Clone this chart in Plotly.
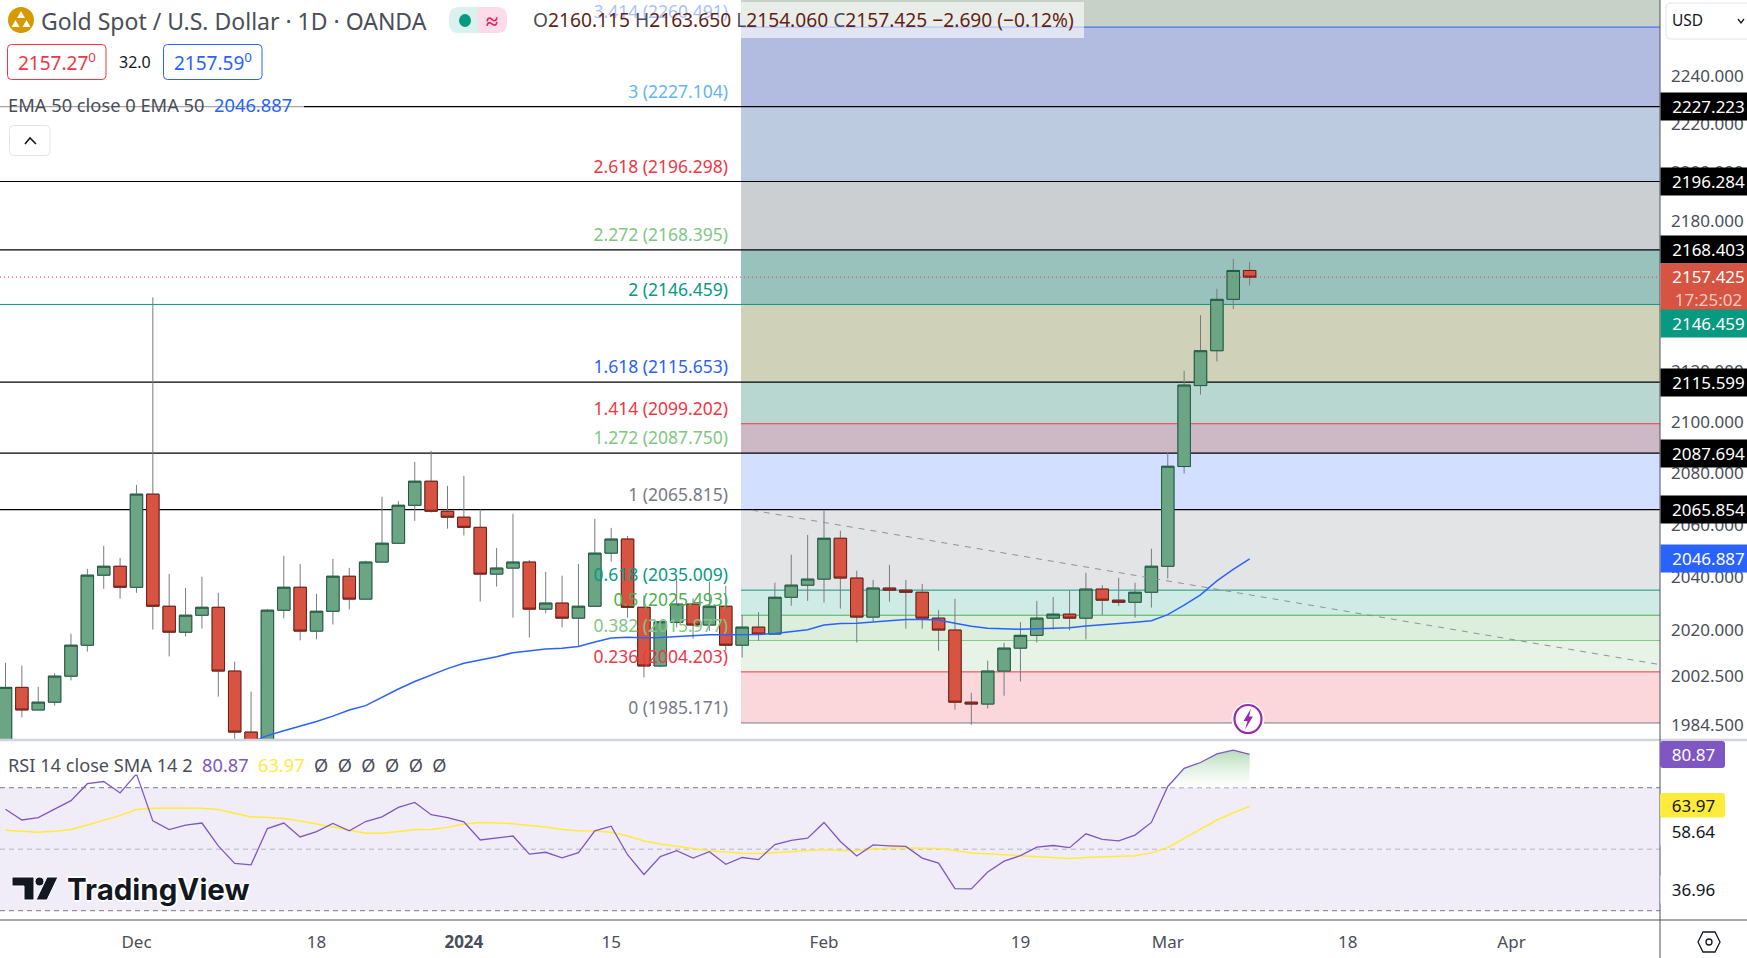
#!/usr/bin/env python3
#coding:utf-8

import math

import plotly.graph_objects as go

# daily candles
opens = [1974.9, 1998.4, 1990.0, 1992.9, 2002.6, 2014.2, 2040.7, 2044.1, 2036.1, 2071.8, 2028.9, 2019.1, 2025.5, 2028.5, 2004.5, 1981.8, 1976.2, 2027.4, 2036.1, 2019.5, 2027.0, 2040.3, 2031.6, 2045.7, 2052.9, 2067.5, 2076.8, 2065.2, 2062.9, 2059.0, 2041.1, 2043.4, 2045.7, 2027.8, 2030.1, 2024.4, 2028.9, 2049.1, 2054.5, 2028.5, 2006.4, 2022.8, 2029.7, 2021.8, 2028.9, 2014.2, 2021.0, 2018.4, 2032.3, 2036.9, 2039.2, 2054.8, 2039.6, 2024.8, 2035.8, 2035.0, 2034.2, 2024.4, 2019.9, 1992.9, 1992.2, 2004.5, 2013.1, 2017.9, 2024.4, 2025.9, 2024.4, 2035.4, 2031.2, 2030.4, 2034.2, 2044.1, 2082.5, 2114.2, 2128.0, 2148.5, 2160.115]
highs = [2007.6, 2006.5, 1998.6, 2003.7, 2018.5, 2043.1, 2051.9, 2047.3, 2075.4, 2149.3, 2041.2, 2035.9, 2040.1, 2034.0, 2008.0, 1996.8, 2027.9, 2048.1, 2045.0, 2033.6, 2046.9, 2043.5, 2046.2, 2070.8, 2069.2, 2084.3, 2088.6, 2075.0, 2078.9, 2066.0, 2051.1, 2064.2, 2046.5, 2042.0, 2040.5, 2045.0, 2062.3, 2058.8, 2055.7, 2032.9, 2023.0, 2039.2, 2031.9, 2038.2, 2036.6, 2025.5, 2026.7, 2037.8, 2048.5, 2056.1, 2065.5, 2057.7, 2042.4, 2038.9, 2044.6, 2038.9, 2037.4, 2027.5, 2031.7, 1996.4, 2008.4, 2015.1, 2022.9, 2030.9, 2032.4, 2034.9, 2041.6, 2036.9, 2039.7, 2037.8, 2050.8, 2088.2, 2120.1, 2142.2, 2152.7, 2164.8, 2163.65]
lows = [1971.3, 1987.3, 1990.0, 1991.6, 2001.0, 2011.8, 2035.5, 2031.8, 2034.0, 2020.1, 2010.0, 2017.5, 2020.5, 1995.0, 1976.2, 1975.6, 1974.9, 2024.3, 2016.0, 2016.4, 2022.0, 2027.7, 2031.6, 2045.7, 2052.9, 2061.5, 2064.7, 2058.5, 2055.9, 2030.7, 2036.4, 2024.6, 2017.1, 2026.2, 2020.9, 2013.7, 2028.9, 2045.9, 2024.6, 2002.1, 2005.9, 2020.9, 2016.7, 2019.6, 2012.1, 2009.6, 2015.85, 2018.4, 2029.1, 2030.9, 2030.3, 2028.0, 2015.2, 2023.0, 2030.6, 2020.4, 2020.4, 2012.1, 1990.1, 1984.5, 1990.5, 1995.3, 2000.6, 2015.2, 2020.1, 2019.8, 2016.4, 2025.5, 2029.1, 2024.6, 2028.4, 2039.4, 2079.8, 2110.7, 2123.7, 2144.6, 2154.06]
closes = [1998.4, 1990.0, 1992.9, 2002.6, 2014.2, 2040.7, 2044.1, 2036.1, 2071.8, 2028.9, 2019.1, 2025.5, 2028.5, 2004.5, 1981.8, 1978.0, 2027.4, 2036.1, 2019.5, 2027.0, 2040.3, 2031.6, 2045.7, 2052.9, 2067.5, 2076.8, 2065.2, 2062.9, 2059.0, 2041.1, 2043.4, 2045.7, 2027.8, 2030.1, 2024.4, 2028.9, 2049.1, 2054.5, 2028.5, 2006.4, 2023.0, 2029.7, 2021.8, 2028.9, 2014.2, 2021.0, 2018.4, 2032.3, 2036.9, 2039.2, 2054.8, 2039.6, 2024.8, 2035.8, 2035.0, 2034.2, 2024.4, 2019.9, 1992.9, 1992.2, 2004.5, 2013.1, 2017.9, 2024.4, 2025.9, 2024.4, 2035.4, 2031.2, 2030.4, 2034.2, 2044.1, 2082.6, 2114.4, 2128.0, 2148.5, 2160.115, 2157.425]

# EMA 50 only comes into view from bar 15
ema_start = 15
ema50 = [1978.0, 1980.5, 1982.3, 1983.9, 1985.7, 1987.7, 1990.0, 1991.6, 1994.7, 1997.8, 2000.6, 2003.1, 2005.4, 2007.4, 2008.6, 2009.9, 2011.4, 2012.1, 2012.8, 2013.1, 2013.7, 2015.4, 2016.9, 2017.2, 2017.0, 2017.1, 2017.5, 2017.7, 2018.1, 2018.1, 2018.1, 2018.2, 2018.6, 2019.2, 2020.0, 2021.8, 2022.4, 2022.5, 2022.9, 2023.4, 2023.9, 2023.9, 2023.7, 2022.5, 2021.3, 2020.6, 2020.4, 2020.2, 2020.4, 2020.6, 2020.8, 2021.4, 2021.8, 2022.3, 2022.8, 2023.4, 2025.7, 2029.3, 2033.2, 2038.5, 2042.9, 2046.887]

rsi = [63.0, 59.5, 60.3, 63.0, 65.8, 71.3, 72.0, 68.3, 74.5, 59.2, 56.4, 57.8, 58.5, 51.1, 45.4, 44.9, 56.7, 58.5, 54.0, 55.7, 58.4, 56.0, 59.0, 60.5, 63.6, 65.2, 61.2, 60.3, 58.9, 53.0, 53.7, 54.3, 48.4, 49.0, 47.2, 48.9, 56.0, 57.5, 48.2, 41.8, 47.6, 49.5, 47.1, 49.2, 45.1, 47.3, 46.6, 51.5, 52.9, 53.6, 58.7, 52.5, 47.8, 51.4, 51.1, 50.9, 47.1, 45.5, 37.2, 37.1, 42.6, 46.1, 47.9, 50.7, 51.2, 50.5, 55.0, 53.2, 52.7, 54.6, 58.7, 70.4, 76.3, 78.2, 81.0, 82.2, 80.87]
rsi_sma = [56.2, 55.8, 55.5, 55.8, 56.4, 57.9, 59.5, 61.0, 62.9, 63.3, 63.4, 63.4, 63.3, 62.9, 61.6, 60.5, 60.3, 60.0, 59.2, 58.3, 57.2, 56.2, 55.2, 55.2, 55.8, 56.3, 56.4, 57.1, 58.2, 58.7, 58.5, 58.3, 57.7, 57.2, 56.4, 56.0, 55.9, 55.5, 54.3, 52.7, 51.7, 51.0, 50.1, 49.5, 49.1, 48.7, 48.6, 48.8, 49.2, 49.6, 49.8, 49.6, 49.5, 50.1, 50.4, 50.4, 50.4, 50.2, 49.6, 48.8, 48.5, 48.2, 47.8, 47.5, 47.1, 47.0, 47.3, 47.5, 47.6, 47.9, 48.8, 50.5, 53.5, 56.4, 59.5, 61.8, 63.97]

# fib retracement levels, top to bottom
fib_ratios = ["3.414", "3", "2.618", "2.272", "2", "1.618", "1.414", "1.272", "1", "0.618", "0.5", "0.382", "0.236", "0"]
fib_prices = [2260.491, 2227.104, 2196.298, 2168.395, 2146.459, 2115.653, 2099.202, 2087.750, 2065.815, 2035.009, 2025.493, 2015.977, 2004.203, 1985.171]
fib_text_colors = ["#2962ff", "#64b5f6", "#f23645", "#81c784", "#089981", "#2962ff", "#f23645", "#81c784", "#787b86", "#089981", "#4caf50", "#81c784", "#f23645", "#787b86"]
fib_band_colors = ["#b2bce0", "#bdcbe0", "#cbcfd2", "#99c2bd", "#d0d1b9", "#b7d7d0", "#cdb9c6", "#d2dfff", "#e3e4e6", "#cfebe5", "#dcefdc", "#e6f3e6", "#fbd6db"]
top_band_color = "#c7d1c8"

# full width black lines and their tags
black_levels = [2227.223, 2196.284, 2168.403, 2115.599, 2087.694, 2065.854]

price_ticks = [2240, 2220, 2200, 2180, 2120, 2100, 2080, 2060, 2040, 2020, 2002.5, 1984.5]
date_labels = ["Dec", "18", "<b>2024</b>", "15", "Feb", "19", "Mar", "18", "Apr"]
date_bars = [8, 19, 28, 37, 50, 62, 71, 82, 92]

last_price = 2157.425
last_bar = 76

FONT = "Noto Sans"
W, H = 1747, 958
PLOT_W, PLOT_H = 1660, 920
MAIN_BOTTOM, RSI_TOP = 739, 741
BAR_STEP, BAR_OFFSET = 16.37, 5.5
PX_PER_LN = 5358.0
TOP_LEVEL_Y = 27.1  # pixel row of the 3.414 level
GREEN, RED = "#6ba583", "#d75442"


def px(x):
    return x / PLOT_W


def py(y):
    return 1 - y / PLOT_H


def bar_at(x):
    """bar index under a pixel column"""
    return (x - BAR_OFFSET) / BAR_STEP


def rounded(x0, y0, x1, y1, r=3):
    """svg path of a rounded box, pixels in, paper coords out"""
    return (f"M{px(x0+r)},{py(y0)} L{px(x1-r)},{py(y0)} Q{px(x1)},{py(y0)} {px(x1)},{py(y0+r)} "
            f"L{px(x1)},{py(y1-r)} Q{px(x1)},{py(y1)} {px(x1-r)},{py(y1)} "
            f"L{px(x0+r)},{py(y1)} Q{px(x0)},{py(y1)} {px(x0)},{py(y1-r)} "
            f"L{px(x0)},{py(y0+r)} Q{px(x0)},{py(y0)} {px(x0+r)},{py(y0)} Z")


def poly(points):
    return "M" + " L".join(f"{px(x)},{py(y)}" for x, y in points) + " Z"


def line_path(points):
    return "M" + " L".join(f"{px(x)},{py(y)}" for x, y in points)


def paper_shape(path, fill="rgba(0,0,0,0)", color="rgba(0,0,0,0)", width=0, layer="above"):
    return dict(type="path", path=path, xref="paper", yref="paper", fillcolor=fill,
                line=dict(color=color, width=width), layer=layer)


def paper_text(x, y, text, size=16, color="#131722", anchor="left", **kw):
    return dict(x=px(x), y=py(y), xref="paper", yref="paper", text=text, showarrow=False,
                xanchor=anchor, yanchor="middle", align=anchor,
                font=dict(family=FONT, size=size, color=color), **kw)


def tag(y_px, text, bg, color="white", width=95, height=27):
    return dict(x=1, y=py(y_px), xref="paper", yref="paper", xanchor="left", yanchor="middle",
                text=text, showarrow=False, width=width, height=height, bgcolor=bg, borderpad=0,
                align="center", valign="middle", font=dict(family=FONT, size=17, color=color))


def price_tag(price, text, bg, **kw):
    """tag sitting on its price level"""
    y_px = (math.log(2260.491 / price)) * PX_PER_LN + TOP_LEVEL_Y
    return tag(y_px, text, bg, **kw)


bars = list(range(len(closes)))
x_range = [bar_at(0), bar_at(PLOT_W)]
band_x0 = bar_at(741)

# prices at the top and bottom rows of the main pane
price_top = 2260.491 * math.exp(TOP_LEVEL_Y / PX_PER_LN)
price_bottom = price_top * math.exp(-MAIN_BOTTOM / PX_PER_LN)
# 70 at y=787.7, 30 at y=910.7
rsi_per_px = 40 / 123.0
rsi_top = 70 + (787.7 - RSI_TOP) * rsi_per_px
rsi_bottom = 30 - (PLOT_H - 910.7) * rsi_per_px

fig = go.Figure()

# fib labels go under the candles, so they are a trace and not annotations
label_lift = math.exp(4.5 / PX_PER_LN)
fig.add_trace(go.Scatter(x=[bar_at(728)] * len(fib_prices), y=[p * label_lift for p in fib_prices], mode="text",
                         text=[f"{r} ({p:.3f})" for r, p in zip(fib_ratios, fib_prices)],
                         textposition="top left",
                         textfont=dict(family=FONT, size=17.5, color=fib_text_colors),
                         hoverinfo="skip", showlegend=False))

# dashed trend line
fig.add_trace(go.Scatter(x=[bar_at(752), bar_at(1660)], y=[2065.6, 2006.9], mode="lines",
                         line=dict(color="#8f9199", width=1, dash="6px 6px"),
                         hoverinfo="skip", showlegend=False))

# ema behind the candles
fig.add_trace(go.Scatter(x=bars[ema_start:], y=ema50, mode="lines",
                         line=dict(color="#2962ff", width=1.5), hoverinfo="skip", showlegend=False))

# gray wicks, then the bodies on top of them without wicks
fig.add_trace(go.Candlestick(x=bars, open=opens, high=highs, low=lows, close=closes,
                             increasing=dict(line=dict(color="#787b86", width=1), fillcolor="#787b86"),
                             decreasing=dict(line=dict(color="#787b86", width=1), fillcolor="#787b86"),
                             whiskerwidth=0, hoverinfo="skip", showlegend=False))
fig.add_trace(go.Candlestick(x=bars, open=opens, close=closes,
                             high=[max(o, c) for o, c in zip(opens, closes)],
                             low=[min(o, c) for o, c in zip(opens, closes)],
                             increasing=dict(line=dict(color="#1f5a41", width=1), fillcolor=GREEN),
                             decreasing=dict(line=dict(color="#6f1c14", width=1), fillcolor=RED),
                             whiskerwidth=0, hoverinfo="skip", showlegend=False))

# last price dotted line
fig.add_trace(go.Scatter(x=x_range, y=[last_price, last_price], mode="lines",
                         line=dict(color="#f23645", width=1, dash="1px 3px"),
                         hoverinfo="skip", showlegend=False))

# rsi area above 70, last bars only
over_bars = [b for b in bars if rsi[b] > 70 and b >= 71]
fig.add_trace(go.Scatter(x=over_bars + [last_bar, over_bars[0]],
                         y=[rsi[b] for b in over_bars] + [70, 70],
                         xaxis="x", yaxis="y2", mode="none", fill="toself",
                         fillgradient=dict(type="vertical",
                                           colorscale=[[0, "rgba(255,255,255,0.6)"], [1, "#b5dcb8"]]),
                         hoverinfo="skip", showlegend=False))
fig.add_trace(go.Scatter(x=bars, y=rsi_sma, xaxis="x", yaxis="y2", mode="lines",
                         line=dict(color="#ffeb3b", width=1.5), hoverinfo="skip", showlegend=False))
fig.add_trace(go.Scatter(x=bars, y=rsi, xaxis="x", yaxis="y2", mode="lines",
                         line=dict(color="#7e57c2", width=1.3), hoverinfo="skip", showlegend=False))

shapes = []

# fib bands
edges = [price_top] + fib_prices
for color, hi, lo in zip([top_band_color] + fib_band_colors, edges[:-1], edges[1:]):
    shapes.append(dict(type="rect", xref="x", yref="y", x0=band_x0, x1=x_range[1], y0=lo, y1=hi,
                       fillcolor=color, line=dict(width=0), layer="below"))

# fib lines inside the band
band_lines = {"3.414": "#2962ff", "1.414": "#f23645", "0.618": "#089981", "0.5": "#4caf50",
              "0.382": "#81c784", "0.236": "#f23645", "0": "#787b86"}
for ratio, price in zip(fib_ratios, fib_prices):
    if ratio in band_lines:
        shapes.append(dict(type="line", xref="x", yref="y", x0=band_x0, x1=x_range[1], y0=price, y1=price,
                           line=dict(color=band_lines[ratio], width=1), layer="below"))

# full width lines
shapes.append(dict(type="line", xref="x", yref="y", x0=x_range[0], x1=x_range[1], y0=2146.459, y1=2146.459,
                   line=dict(color="#089981", width=1), layer="below"))
for level in black_levels:
    shapes.append(dict(type="line", xref="x", yref="y", x0=x_range[0], x1=x_range[1], y0=level, y1=level,
                       line=dict(color="#000000", width=1.2), layer="below"))

# rsi band and its dashed levels
shapes.append(dict(type="rect", xref="x", yref="y2", x0=x_range[0], x1=x_range[1], y0=30, y1=70,
                   fillcolor="#f0edf9", line=dict(width=0), layer="below"))
for level, color in [(70, "#787b86"), (50, "#b2b5be"), (30, "#787b86")]:
    shapes.append(dict(type="line", xref="x", yref="y2", x0=x_range[0], x1=x_range[1], y0=level, y1=level,
                       line=dict(color=color, width=1, dash="5px 4px"), layer="below"))

# legend backdrops
shapes.append(paper_shape(poly([(526, 2), (1084, 2), (1084, 38), (526, 38)]), fill="rgba(255,255,255,0.6)"))
shapes.append(paper_shape(poly([(0, 92), (304, 92), (304, 118), (0, 118)]), fill="rgba(255,255,255,0.65)"))
shapes.append(paper_shape(poly([(0, 744), (446, 744), (446, 775), (0, 775)]), fill="rgba(255,255,255,0.65)"))

# pane borders
shapes.append(paper_shape(line_path([(0, 740), (W, 740)]), color="#d1d4dc", width=2.5))
shapes.append(paper_shape(line_path([(0, 920), (W, 920)]), color="#50535e", width=1))
shapes.append(paper_shape(line_path([(1660, 0), (1660, H)]), color="#50535e", width=1))

# symbol icon
shapes.append(dict(type="circle", xref="paper", yref="paper", x0=px(8), x1=px(34), y0=py(33), y1=py(7),
                   fillcolor="#d69a00", line=dict(width=0), layer="above"))
for tri in [[(21, 11), (25, 18), (17, 18)], [(15.5, 20), (19.5, 27), (11.5, 27)], [(26.5, 20), (30.5, 27), (22.5, 27)]]:
    shapes.append(paper_shape(poly(tri), fill="white"))

# market status pill
shapes.append(paper_shape(rounded(449, 7, 478, 33, 10), fill="#daf1ee"))
shapes.append(paper_shape(rounded(478, 7, 507, 33, 10), fill="#fbdce8"))
shapes.append(paper_shape(poly([(470, 7), (478, 7), (478, 33), (470, 33)]), fill="#daf1ee"))
shapes.append(paper_shape(poly([(478, 7), (486, 7), (486, 33), (478, 33)]), fill="#fbdce8"))
shapes.append(dict(type="circle", xref="paper", yref="paper", x0=px(459), x1=px(471), y0=py(27), y1=py(14),
                   fillcolor="#089981", line=dict(width=0), layer="above"))

# bid / ask boxes
shapes.append(paper_shape(rounded(7.5, 44.5, 106, 79.5, 4), fill="white", color="#f23645", width=1))
shapes.append(paper_shape(rounded(163.5, 44.5, 262, 79.5, 4), fill="white", color="#2962ff", width=1))

# collapse button
shapes.append(paper_shape(rounded(9.5, 125.5, 50, 155.5, 4), fill="white", color="#e0e3eb", width=1))
shapes.append(paper_shape(line_path([(25, 144), (30, 138), (36, 144)]), color="#131722", width=1.6))

# currency box
shapes.append(paper_shape(rounded(1666, 3, 1760, 39, 5), fill="white", color="#e0e3eb", width=1))
shapes.append(paper_shape(line_path([(1738, 19), (1741, 23), (1744, 19)]), color="#131722", width=1.3))

# settings hexagon
shapes.append(paper_shape(poly([(1698, 942), (1703, 932), (1715, 932), (1720, 942), (1715, 952), (1703, 952)]),
                          color="#131722", width=1.3))
shapes.append(dict(type="circle", xref="paper", yref="paper", x0=px(1706), x1=px(1712), y0=py(945), y1=py(939),
                   line=dict(color="#131722", width=1.3), fillcolor="white", layer="above"))

# rsi value boxes
shapes.append(paper_shape(rounded(1660, 741, 1725, 768, 3), fill="#7e57c2"))
shapes.append(paper_shape(rounded(1660, 793, 1725, 818, 3), fill="#ffeb3b"))

# lightning mark
shapes.append(dict(type="circle", xref="paper", yref="paper", x0=px(1232), x1=px(1264), y0=py(735), y1=py(703),
                   fillcolor="white", line=dict(color="white", width=1), layer="above"))
shapes.append(dict(type="circle", xref="paper", yref="paper", x0=px(1234.5), x1=px(1261.5), y0=py(733), y1=py(705),
                   fillcolor="white", line=dict(color="#9c27b0", width=2.2), layer="above"))
shapes.append(paper_shape(poly([(1251, 708.5), (1243.5, 721), (1247.5, 721), (1245, 729.5), (1253, 716.5), (1249, 716.5)]),
                          fill="#9c27b0"))

# tradingview logo mark
shapes.append(paper_shape(poly([(12, 877), (34, 877), (34, 900), (24, 900), (24, 886), (12, 886)]), fill="#131722",
                          color="white", width=1))
shapes.append(paper_shape(poly([(47, 877), (58, 877), (47, 900), (36, 900)]), fill="#131722", color="white", width=1))
shapes.append(dict(type="circle", xref="paper", yref="paper", x0=px(35), x1=px(44), y0=py(886), y1=py(877),
                   fillcolor="#131722", line=dict(color="white", width=1), layer="above"))

annotations = [
    paper_text(39, 21, "Gold Spot / U.S. Dollar · 1D · OANDA", size=23, color="#4a4e59"),
    paper_text(492, 20, "<b>≈</b>", size=22, color="#e91e63", anchor="center"),
]

ohlc = [("O", "2160.115"), ("H", "2163.650"), ("L", "2154.060"), ("C", "2157.425")]
ohlc_text = " ".join(f'<span style="color:#4a4e59">{k}</span>{v}' for k, v in ohlc) + " −2.690 (−0.12%)"
annotations.append(paper_text(531, 20, ohlc_text, size=19.2, color="#621f15"))

annotations += [
    paper_text(57, 62, "2157.27<sup>0</sup>", size=19, color="#f23645", anchor="center"),
    paper_text(135, 62, "32.0", size=16, anchor="center"),
    paper_text(213, 62, "2157.59<sup>0</sup>", size=19, color="#2962ff", anchor="center"),
    paper_text(6, 104, 'EMA 50 close 0 EMA 50  <span style="color:#2962ff">2046.887</span>', size=18.3, color="#4a4e59"),
    paper_text(6, 765, 'RSI 14 close SMA 14 2  <span style="color:#7e57c2">80.87</span>  '
                       '<span style="color:#ffeb3b">63.97</span>  Ø  Ø  Ø  Ø  Ø  Ø', size=18.2, color="#4a4e59"),
    paper_text(1670, 20, "USD", size=15.5),
    dict(x=px(65), y=py(889), xref="paper", yref="paper", text="<b>TradingView</b>", showarrow=False,
         xanchor="left", yanchor="middle",
         font=dict(family="Inter", size=29.5, color="#131722",
                   shadow="2px 0 0 #fff,-2px 0 0 #fff,0 2px 0 #fff,0 -2px 0 #fff")),
]

for level in black_levels:
    annotations.append(price_tag(level, f"{level:.3f}", "#000000"))
annotations += [
    price_tag(last_price, '2157.425<br><span style="color:#f6c9c2">17:25:02</span>', RED, height=48) | {"yshift": -10.5},
    tag(324, "2146.459", "#089981"),
    price_tag(2046.887, "2046.887", "#2962ff"),
    tag(754.5, "80.87", "rgba(0,0,0,0)", width=65),
    tag(805.5, "63.97", "rgba(0,0,0,0)", color="#131722", width=65),
    tag(831, "58.64", "white", color="#131722", width=65),
    tag(889, "36.96", "white", color="#131722", width=65),
]

fig.update_layout(
    width=W, height=H,
    margin=dict(l=0, r=W - PLOT_W, t=0, b=H - PLOT_H),
    paper_bgcolor="white", plot_bgcolor="white",
    showlegend=False, boxmode="overlay", boxgap=0.24, boxgroupgap=0, dragmode=False,
    font=dict(family=FONT, size=16, color="#4a4e59"),
    xaxis=dict(range=x_range, anchor="y2", domain=[0, 1], showgrid=False, zeroline=False,
               rangeslider=dict(visible=False), tickmode="array", tickvals=date_bars, ticktext=date_labels,
               ticks="", ticklabelstandoff=10, tickfont=dict(family=FONT, size=17, color="#4a4e59")),
    yaxis=dict(type="log", range=[math.log10(price_bottom), math.log10(price_top)],
               domain=[1 - MAIN_BOTTOM / PLOT_H, 1], side="right", anchor="x", showgrid=False, zeroline=False,
               tickmode="array", tickvals=price_ticks, ticktext=[f"{t:.3f}" for t in price_ticks],
               ticks="", ticklabelstandoff=10, tickfont=dict(family=FONT, size=17, color="#4a4e59")),
    yaxis2=dict(range=[rsi_bottom, rsi_top], domain=[0, 1 - RSI_TOP / PLOT_H], side="right", anchor="x",
                showgrid=False, zeroline=False, showticklabels=False, ticks=""),
    shapes=shapes,
    annotations=annotations,
)

# browser default body margin would push the chart 8px off
fig.write_html("out.html", config=dict(displayModeBar=False),
               post_script="document.body.style.margin='0';")
